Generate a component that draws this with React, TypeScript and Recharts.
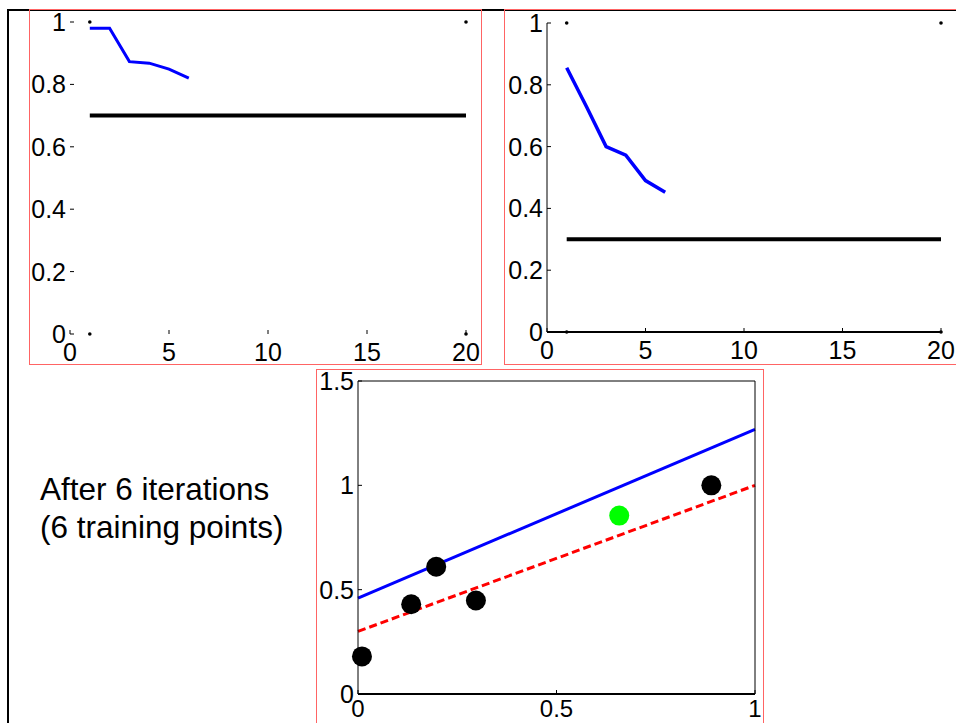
import React from 'react';
import { ComposedChart, Line, Scatter, XAxis, YAxis } from 'recharts';

// iteration axis
const iterTicks = [0, 5, 10, 15, 20];
const unitTicks = [0, 0.2, 0.4, 0.6, 0.8, 1];
const iterations = [1, 2, 3, 4, 5, 6];
const leftErr = [0.98, 0.98, 0.873, 0.868, 0.849, 0.82];
const rightErr = [0.855, 0.73, 0.6, 0.572, 0.49, 0.452];
const thresholdSpan = [1, 20];
const leftThreshold = 0.7;
const rightThreshold = 0.3;
const cornerX = [1, 20];
const cornerY = [0, 1];

// regression panel
const fitTicksX = [0, 0.5, 1];
const fitTicksY = [0, 0.5, 1, 1.5];
const lineX = [0, 1];
const learnedY = [0.46, 1.268];
const trueY = [0.3, 1.0];
const trainX = [0.01, 0.134, 0.197, 0.297, 0.89];
const trainY = [0.18, 0.43, 0.61, 0.448, 1.0];
const nextX = [0.658];
const nextY = [0.855];

const zip = (xs: number[], ys: number[]) => xs.map((x, i) => ({ x, y: ys[i] }));
const flat = (xs: number[], v: number) => xs.map((x) => ({ x, y: v }));
const corners = cornerX.flatMap((x) => cornerY.map((y) => ({ x, y })));

const FONT = '"Liberation Sans", Arial, sans-serif';
const fmt = (v: number) => String(v);

const LeftTick = (p: any) => (
  <g>
    <line x1={p.x} x2={p.x + 4} y1={p.y} y2={p.y} stroke="#000" />
    <text x={p.x - 4} y={p.y} dy="0.36em" textAnchor="end" fontSize={25} fontFamily={FONT} fill="#000">
      {fmt(p.payload.value)}
    </text>
  </g>
);

const bottomTick = (offset: number, size: number) => (p: any) => (
  <g>
    <line x1={p.x} x2={p.x} y1={p.y} y2={p.y - 4} stroke="#000" />
    <text x={p.x} y={p.y + offset} textAnchor="middle" fontSize={size} fontFamily={FONT} fill="#000">
      {fmt(p.payload.value)}
    </text>
  </g>
);

const TopTick = (p: any) => <line x1={p.x} x2={p.x} y1={p.y} y2={p.y + 4} stroke="#000" />;
const RightTick = (p: any) => <line x1={p.x} x2={p.x - 4} y1={p.y} y2={p.y} stroke="#000" />;

const dot = (r: number, fill: string) => (p: any) => <circle cx={p.cx} cy={p.cy} r={r} fill={fill} />;

function ErrorPanel({ err, threshold, axes, box }: { err: number[]; threshold: number; axes: boolean; box: any }) {
  return (
    <ComposedChart width={box.w} height={box.h} margin={{ top: box.top, right: box.right, bottom: 0, left: 0 }}>
      <XAxis
        type="number"
        dataKey="x"
        domain={[0, 20]}
        ticks={iterTicks}
        interval={0}
        height={box.bottom}
        tickSize={0}
        tickMargin={0}
        axisLine={axes ? { stroke: '#000', strokeWidth: 2 } : false}
        tickLine={false}
        tick={bottomTick(27, 25)}
      />
      <YAxis
        type="number"
        dataKey="y"
        domain={[0, 1]}
        ticks={unitTicks}
        interval={0}
        width={box.left}
        tickSize={0}
        tickMargin={0}
        axisLine={axes ? { stroke: '#000', strokeWidth: 1 } : false}
        tickLine={false}
        tick={LeftTick}
      />
      <Line data={flat(thresholdSpan, threshold)} dataKey="y" stroke="#000" strokeWidth={4} dot={false} isAnimationActive={false} />
      <Line data={zip(iterations, err)} dataKey="y" stroke="#0000ff" strokeWidth={box.lw} dot={false} isAnimationActive={false} />
      <Scatter data={corners} shape={dot(1.8, '#000')} isAnimationActive={false} />
    </ComposedChart>
  );
}

export default function App() {
  return (
    <div style={{ position: 'fixed', left: 0, top: 0, width: 956, height: 723, overflow: 'hidden', background: '#fff' }}>
      {/* outer frame */}
      <div style={{ position: 'absolute', left: 7, top: 9, width: 1000, height: 800, borderLeft: '2px solid #000', borderTop: '2px solid #000' }} />
      {/* panel frames */}
      <div style={{ position: 'absolute', left: 29, top: 9, width: 453, height: 356, boxSizing: 'border-box', border: '1px solid #ff6464' }} />
      <div style={{ position: 'absolute', left: 504, top: 9, width: 470, height: 356, boxSizing: 'border-box', border: '1px solid #ff6464' }} />
      <div style={{ position: 'absolute', left: 316, top: 369, width: 448, height: 400, boxSizing: 'border-box', border: '1px solid #ff6464' }} />

      <div style={{ position: 'absolute', left: 29, top: 0 }}>
        <ErrorPanel err={leftErr} threshold={leftThreshold} axes={false} box={{ w: 452, h: 365, top: 22, right: 15, bottom: 31, left: 41, lw: 3 }} />
      </div>
      <div style={{ position: 'absolute', left: 505, top: 0 }}>
        <ErrorPanel err={rightErr} threshold={rightThreshold} axes={true} box={{ w: 451, h: 365, top: 23, right: 15, bottom: 33, left: 42, lw: 3.5 }} />
      </div>

      <div style={{ position: 'absolute', left: 40, top: 470, fontFamily: FONT, fontSize: 31.5, lineHeight: '38px', color: '#000', whiteSpace: 'nowrap' }}>
        After 6 iterations
        <br />
        (6 training points)
      </div>

      <div style={{ position: 'absolute', left: 317, top: 360 }}>
        <ComposedChart width={446} height={363} margin={{ top: 20, right: 7, bottom: 0, left: 0 }}>
          <XAxis
            type="number"
            dataKey="x"
            domain={[0, 1]}
            ticks={fitTicksX}
            interval={0}
            height={29}
            tickSize={0}
            tickMargin={0}
            axisLine={{ stroke: '#000', strokeWidth: 2 }}
            tickLine={false}
            tick={bottomTick(23, 24)}
          />
          <XAxis
            xAxisId="top"
            orientation="top"
            type="number"
            domain={[0, 1]}
            ticks={fitTicksX}
            interval={0}
            height={1}
            tickSize={0}
            tickMargin={0}
            axisLine={{ stroke: '#000', strokeWidth: 1 }}
            tickLine={false}
            tick={TopTick}
          />
          <YAxis
            type="number"
            dataKey="y"
            domain={[0, 1.5]}
            ticks={fitTicksY}
            interval={0}
            width={41}
            tickSize={0}
            tickMargin={0}
            axisLine={{ stroke: '#000', strokeWidth: 1 }}
            tickLine={false}
            tick={LeftTick}
          />
          <YAxis
            yAxisId="right"
            orientation="right"
            type="number"
            domain={[0, 1.5]}
            ticks={fitTicksY}
            interval={0}
            width={1}
            tickSize={0}
            tickMargin={0}
            axisLine={{ stroke: '#000', strokeWidth: 1 }}
            tickLine={false}
            tick={RightTick}
          />
          <Line data={zip(lineX, learnedY)} dataKey="y" stroke="#0000ff" strokeWidth={3} dot={false} isAnimationActive={false} />
          <Line data={zip(lineX, trueY)} dataKey="y" stroke="#ff0000" strokeWidth={3} strokeDasharray="8 4" dot={false} isAnimationActive={false} />
          <Scatter data={zip(trainX, trainY)} shape={dot(10, '#000')} isAnimationActive={false} />
          <Scatter data={zip(nextX, nextY)} shape={dot(10, '#00ff00')} isAnimationActive={false} />
        </ComposedChart>
      </div>
    </div>
  );
}
